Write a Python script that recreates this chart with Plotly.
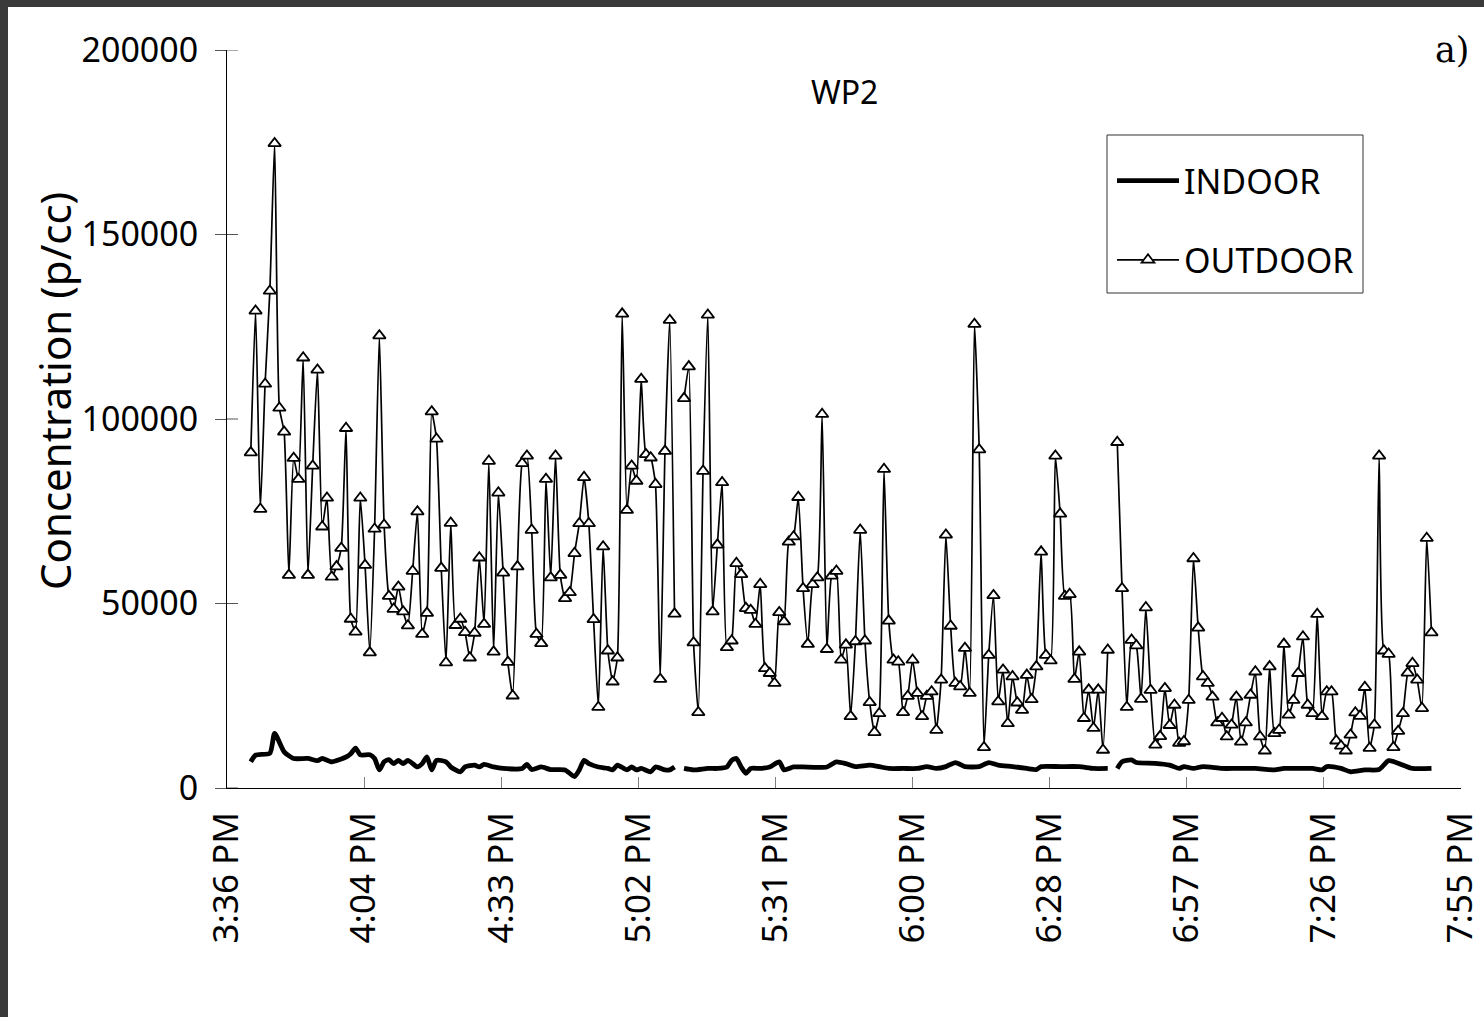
import pandas as pd
import plotly.graph_objects as go

# ---------------- data ----------------
day = "2008-01-01"
outdoor_start = "15:41"  # 1-minute samples
outdoor_values = [
    90900, 129300, 75600, 109500, 134700, 174700, 103000, 96500, 57700, 89400,
    83700, 116600, 57700, 87300, 113300, 70800, 78600, 57200, 60000, 65000,
    97500, 45800, 42300, 78600, 60400, 36700, 70200, 122600, 71300, 52000,
    48500, 54500, 47800, 44000, 58800, 74900, 41700, 47400, 102000, 94600,
    59600, 34000, 71800, 44100, 45800, 42200, 35300, 42000, 62400, 44400,
    88600, 36900, 80000, 58300, 34100, 25000, 60000, 88000, 90000, 69900,
    41700, 39200, 83700, 57000, 90000, 57700, 51400, 53000, 63600, 71700,
    84200, 71700, 45700, 21900, 65400, 37200, 28800, 35300, 128500, 75300,
    87300, 83200, 110800, 90400, 89500, 82300, 29500, 91300, 126800, 47200,
    None, 105600, 114200, 39400, 20500, 85900, 128200, 47800, 65900, 82800,
    38100, 39900, 60900, 57900, 48700, 48200, 44400, 55200, 32400, 31100,
    28400, 47600, 45100, 66700, 68100, 78800, 54100, 39000, 55200, 57000,
    101300, 37600, 57500, 58800, 34700, 38800, 19400, 39700, 69900, 39900,
    23200, 15100, 20200, 86400, 45300, 34700, 34200, 20500, 24900, 34700,
    25700, 19400, 24900, 26100, 15700, 29300, 68600, 43900, 28400, 27500,
    37900, 25700, 125700, 91700, 11000, 36000, 52200, 23400, 32000, 17500,
    30200, 23100, 21100, 30600, 24000, 32900, 64000, 36000, 34500, 90000,
    74300, 52000, 52500, 29500, 36900, 18900, 26600, 16200, 26600, 10300,
    37400, None, 93700, 54100, 21900, 40100, 38600, 24100, 48900, 26500,
    11700, 14000, 27000, 17000, 22500, 12200, 12600, 23800, 62200, 43400,
    30200, 28400, 24700, 17700, 18900, 13900, 17100, 24700, 12500, 17700,
    25200, 31500, 13900, 10100, 32900, 14800, 15700, 39000, 19800, 23800,
    31100, 41000, 22500, 20200, 47100, 19400, 26100, 26100, 12800, 11400,
    10100, 14400, 20400, 19500, 27300, 10800, 17100, 90000, 37200, 36300,
    11000, 15400, 20200, 31200, 33800, 29300, 21600, 67700, 42100,
]

indoor_times = [
    "15:41", "15:42", "15:45", "15:46", "15:48", "15:50", "15:53", "15:55", "15:56", "15:58",
    "16:01", "16:02", "16:03", "16:04", "16:06", "16:07", "16:08", "16:09", "16:10", "16:11",
    "16:12", "16:13", "16:14", "16:16", "16:17", "16:18", "16:19", "16:20", "16:22", "16:23",
    "16:25", "16:26", "16:28", "16:29", "16:30", "16:32", "16:34", "16:38", "16:39", "16:40",
    "16:42", "16:44", "16:47", "16:49", "16:50", "16:51", "16:52", "16:54", "16:56", "16:57",
    "16:58", "17:00", "17:01", "17:02", "17:03", "17:05", "17:06", "17:08", "17:09", "17:10",
    "17:11", "17:12", "17:14", "17:17", "17:19", "17:21", "17:22", "17:23", "17:24", "17:25",
    "17:26", "17:28", "17:30", "17:32", "17:33", "17:35", "17:37", "17:42", "17:44", "17:46",
    "17:48", "17:51", "17:53", "17:55", "17:58", "18:01", "18:03", "18:05", "18:07", "18:09",
    "18:11", "18:14", "18:16", "18:18", "18:21", "18:24", "18:26", "18:27", "18:31", "18:35",
    "18:38", "18:41", "18:42", "18:43", "18:44", "18:46", "18:47", "18:51", "18:54", "18:56",
    "18:57", "18:59", "19:01", "19:05", "19:08", "19:12", "19:16", "19:18", "19:21", "19:24",
    "19:26", "19:27", "19:30", "19:32", "19:35", "19:38", "19:40", "19:43", "19:45", "19:49",
]
indoor_values = [
    7100, 8900, 9400, 14800, 9800, 8000, 8000, 7400, 8000, 7100,
    8400, 9300, 10800, 9000, 9000, 8000, 4900, 7100, 7700, 6600,
    7500, 6600, 7500, 5700, 6600, 8400, 4900, 7500, 7100, 5700,
    4400, 5700, 6200, 5700, 6400, 5700, 5300, 5300, 6400, 5000,
    5700, 5000, 4900, 3100, 4900, 7500, 6600, 5700, 5300, 4900,
    6200, 4900, 5700, 4900, 5300, 4400, 5700, 4900, 4900, 5700,
    None, 5300, 4900, 5300, 5300, 5700, 7500, 8000, 5700, 4000,
    5300, 5300, 5700, 7100, 4900, 5700, 5700, 5700, 7100, 6600,
    5800, 6200, 5800, 5300, 5300, 5300, 5800, 5300, 5800, 6900,
    5800, 5800, 6900, 6200, 5800, 5300, 5000, 5800, 5800, 5800,
    5300, 5300, None, 5300, 7100, 7600, 6900, 6700, 6200, 5300,
    5800, 5300, 5800, 5300, 5300, 5300, 4900, 5300, 5300, 5300,
    4900, 5800, 5300, 4400, 4900, 5000, 7400, 6200, 5300, 5300,
]

axis_start = "15:36"
axis_end = "19:55:12"
tick_step_min = 28.8  # Excel major unit 0.02 day
tick_labels = ["3:36 PM", "4:04 PM", "4:33 PM", "5:02 PM", "5:31 PM",
               "6:00 PM", "6:28 PM", "6:57 PM", "7:26 PM", "7:55 PM"]
y_ticks = [0, 50000, 100000, 150000, 200000]

# ---------------- geometry ----------------
W, H = 1484, 1017
L, R, T, B = 227, 23, 50, 229
PW, PH = W - L - R, H - T - B


def px_x(p):
    return (p - L) / PW


def px_y(p):
    return (H - B - p) / PH


FONT = "Noto Sans"

out_x = pd.date_range(f"{day} {outdoor_start}", periods=len(outdoor_values), freq="min")
in_x = pd.to_datetime([f"{day} {t}" for t in indoor_times])
t0 = pd.Timestamp(f"{day} {axis_start}")
tickvals = [t0 + pd.Timedelta(minutes=tick_step_min * i) for i in range(len(tick_labels))]

fig = go.Figure()
fig.add_trace(go.Scatter(
    x=in_x, y=indoor_values, name="INDOOR", mode="lines",
    line=dict(color="black", width=4.8, shape="spline", smoothing=0.6),
    connectgaps=False, legendgroup="a",
))
fig.add_trace(go.Scatter(
    x=out_x, y=outdoor_values, name="OUTDOOR", mode="lines+markers",
    line=dict(color="black", width=1.7, shape="spline", smoothing=0.5),
    marker=dict(symbol="triangle-up", size=11, color="white",
                line=dict(color="black", width=1.8)),
    connectgaps=False, legendgroup="b",
))

shapes = []
# crossing part of y ticks (inside portion)
for v in y_ticks:
    shapes.append(dict(type="line", xref="paper", yref="y", x0=0, x1=11 / PW, y0=v, y1=v,
                       line=dict(color="#555555", width=1), layer="above"))
# legend frame
shapes.append(dict(type="rect", xref="paper", yref="paper", x0=px_x(1107), x1=px_x(1363),
                   y0=px_y(293), y1=px_y(135), line=dict(color="#333333", width=1),
                   fillcolor="white", layer="below"))
# dark frame (top and left)
shapes.append(dict(type="rect", xref="paper", yref="paper", x0=px_x(-5), x1=px_x(W + 5),
                   y0=px_y(7), y1=px_y(-5), fillcolor="#3a3a3a", line=dict(width=0), layer="above"))
shapes.append(dict(type="rect", xref="paper", yref="paper", x0=px_x(-5), x1=px_x(8),
                   y0=px_y(H + 5), y1=px_y(-5), fillcolor="#3a3a3a", line=dict(width=0), layer="above"))

fig.update_layout(
    width=W, height=H, autosize=False,
    margin=dict(l=L, r=R, t=T, b=B, pad=0),
    paper_bgcolor="white", plot_bgcolor="white",
    font=dict(family=FONT, size=34, color="black"),
    showlegend=True,
    legend=dict(x=px_x(1112), y=px_y(152), xanchor="left", yanchor="top",
                borderwidth=0, bgcolor="rgba(0,0,0,0)",
                font=dict(family=FONT, size=34, color="black"),
                traceorder="grouped", tracegroupgap=32, itemwidth=62),
    xaxis=dict(
        type="date", range=[f"{day} {axis_start}", f"{day} {axis_end}"],
        tickmode="array", tickvals=tickvals, ticktext=tick_labels, tickangle=-90,
        ticks="inside", ticklen=11, tickcolor="#808080", tickwidth=1,
        showline=True, linecolor="black", linewidth=1, showgrid=False, zeroline=False,
        tickfont=dict(family=FONT, size=35, color="black"), ticklabelstandoff=9,
        automargin=False,
    ),
    yaxis=dict(
        range=[0, 200000], tickmode="array", tickvals=y_ticks, tickformat="d",
        ticks="outside", ticklen=11, tickcolor="#555555", tickwidth=1,
        showline=True, linecolor="black", linewidth=1, showgrid=False, zeroline=False,
        tickfont=dict(family=FONT, size=34, color="black"), ticklabelstandoff=10,
        automargin=False,
    ),
    shapes=shapes,
    annotations=[
        dict(text="WP2", xref="paper", yref="paper", x=0.5, y=px_y(92), showarrow=False,
             xanchor="center", yanchor="middle", font=dict(family=FONT, size=32)),
        dict(text="a)", xref="paper", yref="paper", x=px_x(1472), y=px_y(50), showarrow=False,
             xanchor="right", yanchor="middle", font=dict(family="DejaVu Serif", size=35)),
        dict(text="Concentration (p/cc)", xref="paper", yref="paper", x=px_x(54), y=px_y(391),
             showarrow=False, textangle=-90, xanchor="center", yanchor="middle",
             font=dict(family=FONT, size=42)),
    ],
)

fig.write_html("out.html")
